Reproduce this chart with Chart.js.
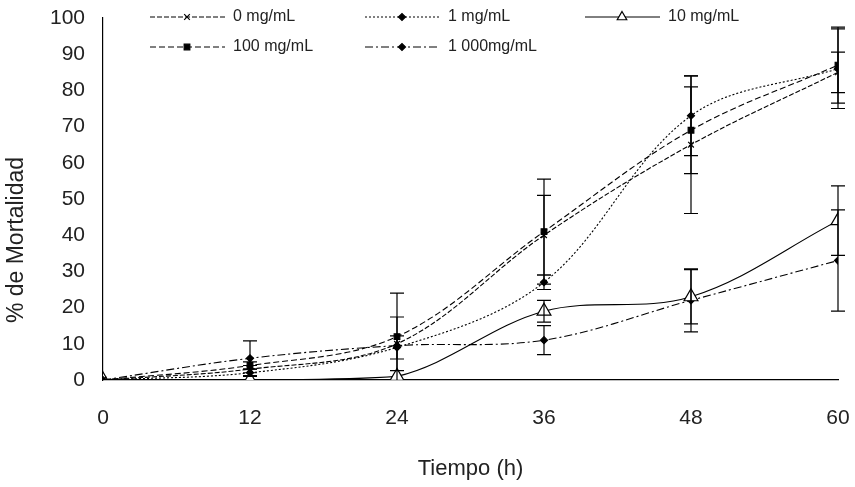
<!DOCTYPE html>
<html>
<head>
<meta charset="utf-8">
<script src="https://cdn.jsdelivr.net/npm/chart.js@4.4.0/dist/chart.umd.min.js"></script>
<style>
  html, body { margin: 0; padding: 0; background: #fff; }
  #wrap { width: 855px; height: 487px; }
</style>
</head>
<body>
<div id="wrap"><canvas id="MortChart"></canvas></div>
<script>
const tiempo = [0, 12, 24, 36, 48, 60];
const yTicks = [0, 10, 20, 30, 40, 50, 60, 70, 80, 90, 100];

// mortality (%) per dose
const m0 = [0, 3, 10, 40, 65, 85];
const m1 = [0, 2, 9, 27, 73, 86];
const m10 = [0, 0, 1, 19, 23, 44];
const m100 = [0, 4, 12, 41, 69, 87];
const m1000 = [0, 6, 9.5, 11, 22, 33];

// error bar half-widths
const e0 = [0, 1, 7.4, 11, 19, 5.6];
const e1 = [0, 1, 3.2, 2, 11, 11];
const e10 = [0, 0, 0, 3, 7.5, 9.6];
const e100 = [0, 1, 12, 14.5, 12, 10.5];
const e1000 = [0, 4.8, 0, 4, 8.7, 14];

const doses = ['0 mg/mL', '1 mg/mL', '10 mg/mL', '100 mg/mL', '1 000mg/mL'];

const ctx = document.getElementById('MortChart').getContext('2d');
const FONT = 'Liberation Sans, Arial, sans-serif';

function pts(vals) {
  return vals.map((v, i) => ({x: tiempo[i], y: v}));
}

function makeSet(label, vals, errs, style, radius, dash, fill) {
  return {
    label: label,
    data: pts(vals),
    errs: errs,
    borderColor: '#000',
    backgroundColor: fill,
    pointBackgroundColor: fill,
    pointBorderColor: '#000',
    pointStyle: style,
    pointRadius: radius,
    pointBorderWidth: 1.2,
    borderWidth: 1.1,
    borderDash: dash,
    tension: 0.35,
    fill: false
  };
}

const datasets = [
  makeSet(doses[0], m0, e0, 'crossRot', 4, [5, 2], '#000'),
  makeSet(doses[1], m1, e1, 'rectRot', 3.5, [2, 2], '#000'),
  makeSet(doses[2], m10, e10, 'triangle', 8, [], '#fff'),
  makeSet(doses[3], m100, e100, 'rect', 4, [6, 3], '#000'),
  makeSet(doses[4], m1000, e1000, 'rectRot', 3.5, [8, 3, 2, 3], '#000')
];

const errorBars = {
  id: 'errorBars',
  afterDatasetsDraw(chart) {
    const c = chart.ctx;
    const xs = chart.scales.x, ys = chart.scales.y;
    const area = chart.chartArea;
    c.save();
    c.strokeStyle = '#000';
    c.lineWidth = 1.2;
    c.setLineDash([]);
    chart.data.datasets.forEach(ds => {
      ds.data.forEach((p, j) => {
        const e = ds.errs[j];
        if (!e) return;
        const px = xs.getPixelForValue(p.x);
        const top = ys.getPixelForValue(p.y + e);
        const bot = Math.min(ys.getPixelForValue(p.y - e), area.bottom);
        c.beginPath();
        c.moveTo(px, top); c.lineTo(px, bot);
        c.moveTo(px - 7, top); c.lineTo(px + 7, top);
        if (bot < area.bottom) { c.moveTo(px - 7, bot); c.lineTo(px + 7, bot); }
        c.stroke();
      });
    });
    c.restore();
  }
};

const legendBox = {
  id: 'legendBox',
  afterDraw(chart) {
    const c = chart.ctx;
    const spots = [[150, 17], [365, 17], [585, 17], [150, 47], [365, 47]];
    c.save();
    chart.data.datasets.forEach((ds, i) => {
      const [x, y] = spots[i];
      c.strokeStyle = '#000';
      c.lineWidth = 1;
      c.setLineDash(ds.borderDash);
      c.beginPath();
      c.moveTo(x, y); c.lineTo(x + 75, y);
      c.stroke();
      c.setLineDash([]);
      c.fillStyle = ds.pointBackgroundColor;
      c.lineWidth = 1.2;
      const r = ds.pointStyle === 'triangle' ? 5.5 : ds.pointRadius;
      Chart.helpers.drawPoint(c, {pointStyle: ds.pointStyle, radius: r, rotation: 0, borderWidth: 1.2}, x + 37, y);
      c.fillStyle = '#222';
      c.font = '16px ' + FONT;
      c.textBaseline = 'middle';
      c.textAlign = 'left';
      c.fillText(ds.label, x + 83, y);
    });
    // y axis title sits lower than the axis middle in the original
    c.translate(17, 240);
    c.rotate(-Math.PI / 2);
    c.font = '23px ' + FONT;
    c.textAlign = 'center';
    c.fillText('% de Mortalidad', 0, 0);
    c.restore();
  }
};

new Chart(ctx, {
  type: 'line',
  data: {datasets: datasets},
  plugins: [errorBars, legendBox],
  options: {
    responsive: true,
    maintainAspectRatio: false,
    animation: false,
    layout: {padding: {left: 0, right: 17, top: 18, bottom: 0}},
    plugins: {
      legend: {display: false},
      tooltip: {enabled: false}
    },
    scales: {
      x: {
        type: 'linear',
        min: 0,
        max: 60,
        afterFit: s => { s.height = 107; s.paddingRight = 0; s.paddingLeft = 0; },
        afterBuildTicks: s => { s.ticks = tiempo.map(v => ({value: v})); },
        grid: {display: false, drawOnChartArea: false, drawTicks: true, tickLength: 6, tickColor: '#000'},
        border: {color: '#000', width: 1.2},
        ticks: {color: '#222', font: {family: FONT, size: 21}, padding: 20, maxRotation: 0},
        title: {display: true, text: 'Tiempo (h)', color: '#222', font: {family: FONT, size: 22}, padding: {top: 0, bottom: 5}}
      },
      y: {
        min: 0,
        max: 100,
        afterFit: s => { s.width = 103; s.paddingTop = 0; s.paddingBottom = 0; },
        afterBuildTicks: s => { s.ticks = yTicks.map(v => ({value: v})); },
        grid: {display: false, drawOnChartArea: false, drawTicks: true, tickLength: 6, tickColor: '#000'},
        border: {color: '#000', width: 1.2},
        ticks: {color: '#222', font: {family: FONT, size: 21}, padding: 12},
        title: {display: false}
      }
    }
  }
});
</script>
</body>
</html>
